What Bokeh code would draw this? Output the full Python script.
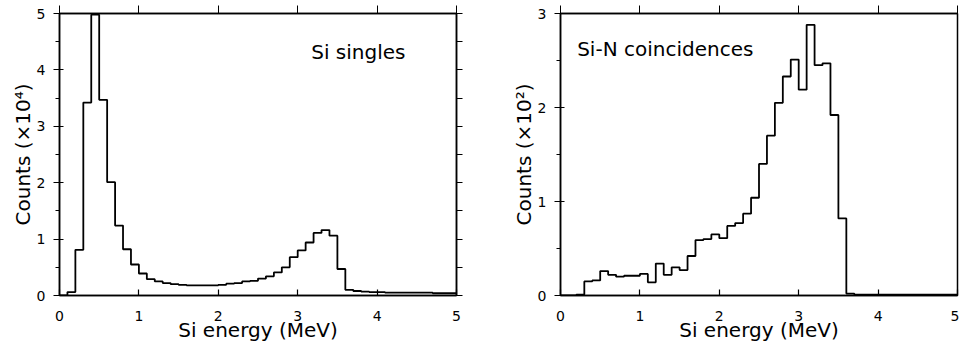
import numpy as np
from bokeh.plotting import figure
from bokeh.layouts import row
from bokeh.models import Label, LinearAxis, SingleIntervalTicker, Range1d
from bokeh.embed import file_html
from bokeh.resources import INLINE

# bin width 0.1 MeV, 0 .. 5 MeV
bin_edges = np.round(np.arange(0, 5.0001, 0.1), 2)

# Si singles, counts x10^4
singles = [0.00, 0.06, 0.81, 3.42, 4.98, 3.47, 2.01, 1.24, 0.82, 0.55,
           0.39, 0.29, 0.25, 0.22, 0.20, 0.19, 0.18, 0.18, 0.18, 0.18,
           0.19, 0.21, 0.22, 0.25, 0.26, 0.30, 0.34, 0.41, 0.50, 0.68,
           0.80, 0.94, 1.11, 1.16, 1.06, 0.47, 0.10, 0.08, 0.07, 0.06,
           0.06, 0.05, 0.05, 0.05, 0.05, 0.05, 0.05, 0.04, 0.04, 0.04]

# Si-N coincidences, counts x10^2
coinc = [0.00, 0.00, 0.01, 0.15, 0.16, 0.26, 0.22, 0.20, 0.21, 0.21,
         0.23, 0.14, 0.34, 0.22, 0.30, 0.27, 0.42, 0.59, 0.60, 0.65,
         0.61, 0.74, 0.77, 0.87, 1.04, 1.40, 1.70, 2.05, 2.33, 2.51,
         2.19, 2.88, 2.45, 2.47, 1.92, 0.82, 0.02, 0.01, 0.01, 0.01,
         0.01, 0.01, 0.01, 0.01, 0.01, 0.01, 0.01, 0.01, 0.01, 0.01]

x_label = "Si energy (MeV)"
y_label_left = "Counts (×10⁴)"
y_label_right = "Counts (×10²)"
title_left = "Si singles"
title_right = "Si-N coincidences"

FONT = "DejaVu Sans"


def make_panel(values, ymax, ylabel, note, note_x, note_y, width, bl, br, bt, right_axis):
    p = figure(width=width, height=350, output_backend="svg", toolbar_location=None,
               x_range=Range1d(0, 5), y_range=Range1d(0, ymax),
               min_border_left=bl, min_border_right=br, min_border_top=bt,
               min_border_bottom=55)
    p.background_fill_color = "white"
    p.border_fill_color = "white"
    p.outline_line_color = "black"
    p.outline_line_width = 1.5
    p.xgrid.visible = False
    p.ygrid.visible = False

    xs = list(bin_edges[:-1]) + [bin_edges[-1]]
    ys = list(values) + [values[-1]]
    p.step(xs, ys, mode="after", line_color="black", line_width=1.8)

    xa = p.xaxis[0]
    xa.ticker = SingleIntervalTicker(interval=1, num_minor_ticks=0)
    xa.axis_label = x_label
    ya = p.yaxis[0]
    ya.ticker = SingleIntervalTicker(interval=1, num_minor_ticks=2)
    ya.axis_label = ylabel
    for ax in (xa, ya):
        ax.axis_label_text_font = FONT
        ax.axis_label_text_font_size = "20px"
        ax.axis_label_text_font_style = "normal"
        ax.axis_label_text_color = "black"
        ax.major_label_text_font = FONT
        ax.major_label_text_font_size = "14px"
        ax.major_label_text_color = "black"
        ax.axis_line_color = "black"
        ax.axis_line_width = 1.5
        ax.major_tick_line_color = "black"
        ax.minor_tick_line_color = "black"
        ax.major_tick_line_width = 1.2
        ax.minor_tick_line_width = 1.0
    xa.major_tick_in = 6
    xa.major_tick_out = 0
    xa.minor_tick_line_color = None
    xa.major_label_standoff = 15
    xa.axis_label_standoff = -6
    ya.major_tick_in = 4
    ya.major_tick_out = 6
    ya.minor_tick_in = 0
    ya.minor_tick_out = 4
    ya.major_label_standoff = 8
    ya.axis_label_standoff = -1

    top = LinearAxis(ticker=SingleIntervalTicker(interval=1, num_minor_ticks=0),
                     major_label_text_color=None, major_label_text_font_size="1px",
                     major_label_standoff=0,
                     major_tick_in=0, major_tick_out=8, axis_line_width=1.5,
                     minor_tick_line_color=None)
    p.add_layout(top, "above")
    if right_axis:
        r = LinearAxis(ticker=SingleIntervalTicker(interval=0.5, num_minor_ticks=0),
                       major_label_text_color=None, major_label_text_font_size="1px",
                       major_label_standoff=0,
                       major_tick_in=0, major_tick_out=6, axis_line_width=1.5,
                       minor_tick_line_color=None)
        p.add_layout(r, "right")

    p.add_layout(Label(x=note_x, y=note_y, text=note, text_font=FONT,
                       text_font_size="20px", text_color="black",
                       text_baseline="alphabetic"))
    return p


p1 = make_panel(singles, 5, y_label_left, title_left, 3.17, 4.31, 480, 59, 24, 13, True)
p2 = make_panel(coinc, 3, y_label_right, title_right, 0.21, 2.62, 479, 80, 2, 12, False)

layout = row(p1, p2)
open("out.html", "w").write(file_html(layout, INLINE))
